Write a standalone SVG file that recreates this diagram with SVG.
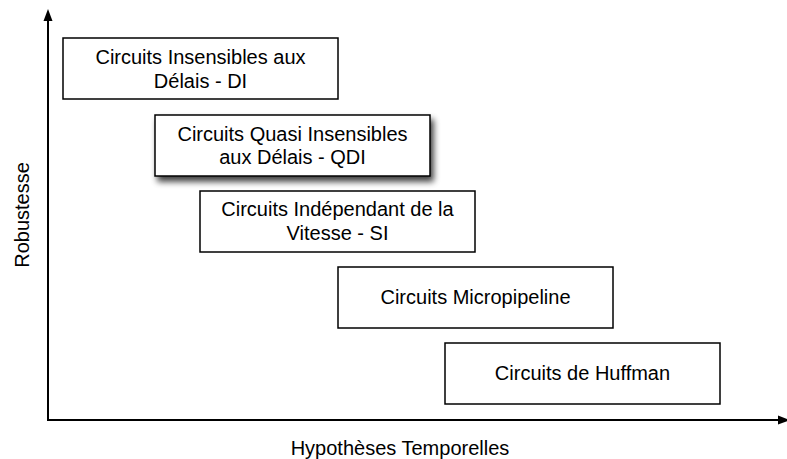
<svg xmlns="http://www.w3.org/2000/svg" width="787" height="459" viewBox="0 0 787 459">
<style>
.box{fill:#fff;stroke:#000;stroke-width:1.5}
.t{font-family:"Liberation Sans",Arial,sans-serif;font-size:20px;fill:#000;text-anchor:middle}
.ax{stroke:#000;stroke-width:2;fill:none}
</style>
<defs>
<filter id="sh" x="-10%" y="-20%" width="130%" height="160%">
<feGaussianBlur in="SourceAlpha" stdDeviation="3"/>
<feOffset dx="3" dy="5" result="b"/>
<feComponentTransfer><feFuncA type="linear" slope="0.75"/></feComponentTransfer>
<feMerge><feMergeNode/><feMergeNode in="SourceGraphic"/></feMerge>
</filter>
</defs>
<g id="connectors">
<line class="ax" x1="48" y1="420" x2="48" y2="20"/>
<polygon points="48,9 43.5,21 52.5,21" fill="#000"/>
<line class="ax" x1="47" y1="420" x2="778" y2="420"/>
<polygon points="790,420 778,415.5 778,424.5" fill="#000"/>
</g>
<g id="n1"><rect class="box" x="63" y="38" width="275" height="61"/>
<text class="t" x="200.5" y="64">Circuits Insensibles aux</text><text class="t" x="200.5" y="87.5">Délais - DI</text></g>
<g id="n2"><rect class="box" x="155" y="115" width="275" height="61" filter="url(#sh)"/>
<text class="t" x="292.5" y="140.5">Circuits Quasi Insensibles</text><text class="t" x="292.5" y="164">aux Délais - QDI</text></g>
<g id="n3"><rect class="box" x="200" y="191" width="275" height="61"/>
<text class="t" x="337.5" y="216">Circuits Indépendant de la</text><text class="t" x="337.5" y="240">Vitesse - SI</text></g>
<g id="n4"><rect class="box" x="338" y="267" width="275" height="61"/>
<text class="t" x="475.5" y="304">Circuits Micropipeline</text></g>
<g id="n5"><rect class="box" x="445" y="343" width="275" height="61"/>
<text class="t" x="582.5" y="380">Circuits de Huffman</text></g>
<g id="labels">
<text class="t" x="400" y="455">Hypothèses Temporelles</text>
<text class="t" transform="translate(29,215) rotate(-90)">Robustesse</text>
</g>
</svg>
